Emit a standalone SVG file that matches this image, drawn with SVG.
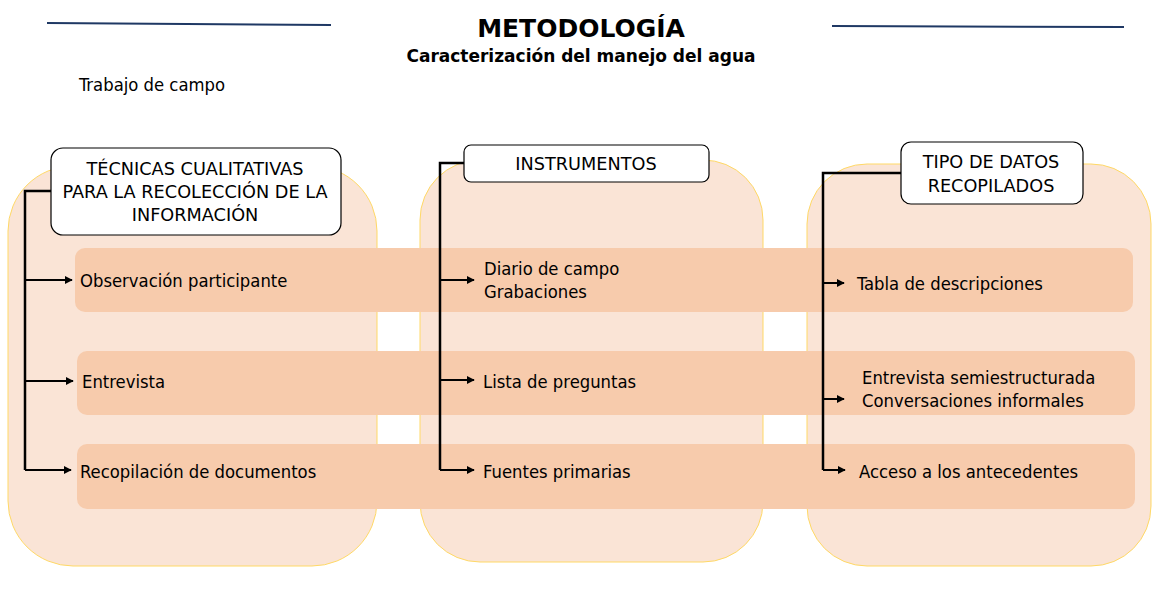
<svg xmlns="http://www.w3.org/2000/svg" width="1171" height="604" viewBox="0 0 1171 604">
<style>
.panel{fill:#fae4d6;stroke:#ffd966;stroke-width:1}
.row{fill:#f7cbac}
.hdr{fill:#ffffff;stroke:#000;stroke-width:1.2}
.t{font-family:"DejaVu Sans Condensed","DejaVu Sans",sans-serif;font-stretch:condensed;font-size:18.3px;fill:#000}
.h{font-family:"DejaVu Sans",sans-serif;font-size:17.7px;fill:#000;text-anchor:middle}
.ttl{font-family:"DejaVu Sans",sans-serif;font-weight:bold;fill:#000;text-anchor:middle}
.c{text-anchor:middle}
.conn{fill:none;stroke:#000;stroke-width:2.5}
.br{fill:none;stroke:#000;stroke-width:2;marker-end:url(#ah)}
.rule{stroke:#1f3864;stroke-width:2}
</style>
<defs>
<marker id="ah" viewBox="0 0 10 10" refX="9" refY="5" markerWidth="4" markerHeight="4" orient="auto" markerUnits="strokeWidth">
<path d="M0,0 L10,5 L0,10 z" fill="#000"/>
</marker>
</defs>
<rect width="1171" height="604" fill="#fff"/>
<line class="rule" x1="47" y1="23" x2="331" y2="25"/>
<line class="rule" x1="832" y1="26" x2="1124" y2="27"/>
<text class="ttl" x="581" y="37" style="font-size:25px">METODOLOGÍA</text>
<text class="ttl" x="581" y="62" style="font-size:17px">Caracterización del manejo del agua</text>
<text class="t" x="79" y="91">Trabajo de campo</text>

<g id="panels">
<rect class="panel" x="8" y="166" width="369" height="400" rx="65" ry="65"/>
<rect class="panel" x="420" y="160" width="343" height="402" rx="60" ry="60"/>
<rect class="panel" x="807" y="164" width="344" height="402" rx="60" ry="60"/>
</g>

<g id="row1">
<rect class="row" x="75" y="248" width="1058" height="64" rx="10" ry="10"/>
<text class="t" x="80" y="287">Observación participante</text>
<text class="t" x="484" y="275">Diario de campo</text>
<text class="t" x="484" y="298">Grabaciones</text>
<text class="t" x="857" y="290">Tabla de descripciones</text>
</g>
<g id="row2">
<rect class="row" x="77" y="351" width="1058" height="64" rx="10" ry="10"/>
<text class="t" x="82" y="388">Entrevista</text>
<text class="t" x="483" y="388">Lista de preguntas</text>
<text class="t" x="862" y="384">Entrevista semiestructurada</text>
<text class="t" x="862" y="407">Conversaciones informales</text>
</g>
<g id="row3">
<rect class="row" x="77" y="444" width="1058" height="65" rx="10" ry="10"/>
<text class="t" x="80" y="478">Recopilación de documentos</text>
<text class="t" x="483" y="478">Fuentes primarias</text>
<text class="t" x="859" y="478">Acceso a los antecedentes</text>
</g>

<g id="connectors">
<polyline class="conn" points="51,191 25,191 25,470"/>
<line class="br" x1="25" y1="280" x2="72" y2="280"/>
<line class="br" x1="25" y1="381" x2="73" y2="381"/>
<line class="br" x1="25" y1="470" x2="71" y2="470"/>
<polyline class="conn" points="464,163 440,163 440,470"/>
<line class="br" x1="440" y1="280" x2="474" y2="280"/>
<line class="br" x1="440" y1="380" x2="474" y2="380"/>
<line class="br" x1="440" y1="470" x2="474" y2="470"/>
<polyline class="conn" points="901,173 823,173 823,470"/>
<line class="br" x1="823" y1="283" x2="844" y2="283"/>
<line class="br" x1="823" y1="399" x2="844" y2="399"/>
<line class="br" x1="823" y1="470" x2="845" y2="470"/>
</g>

<g id="hdr-tecnicas">
<rect class="hdr" x="51" y="148" width="290" height="87" rx="12" ry="12"/>
<text class="h" x="195" y="175">TÉCNICAS CUALITATIVAS</text>
<text class="h" x="195" y="198">PARA LA RECOLECCIÓN DE LA</text>
<text class="h" x="195" y="221">INFORMACIÓN</text>
</g>
<g id="hdr-instrumentos">
<rect class="hdr" x="464" y="145" width="245" height="37" rx="7" ry="7"/>
<text class="h" x="586" y="170">INSTRUMENTOS</text>
</g>
<g id="hdr-tipo">
<rect class="hdr" x="901" y="142" width="182" height="62" rx="10" ry="10"/>
<text class="h" x="991" y="168">TIPO DE DATOS</text>
<text class="h" x="991" y="192">RECOPILADOS</text>
</g>
</svg>
